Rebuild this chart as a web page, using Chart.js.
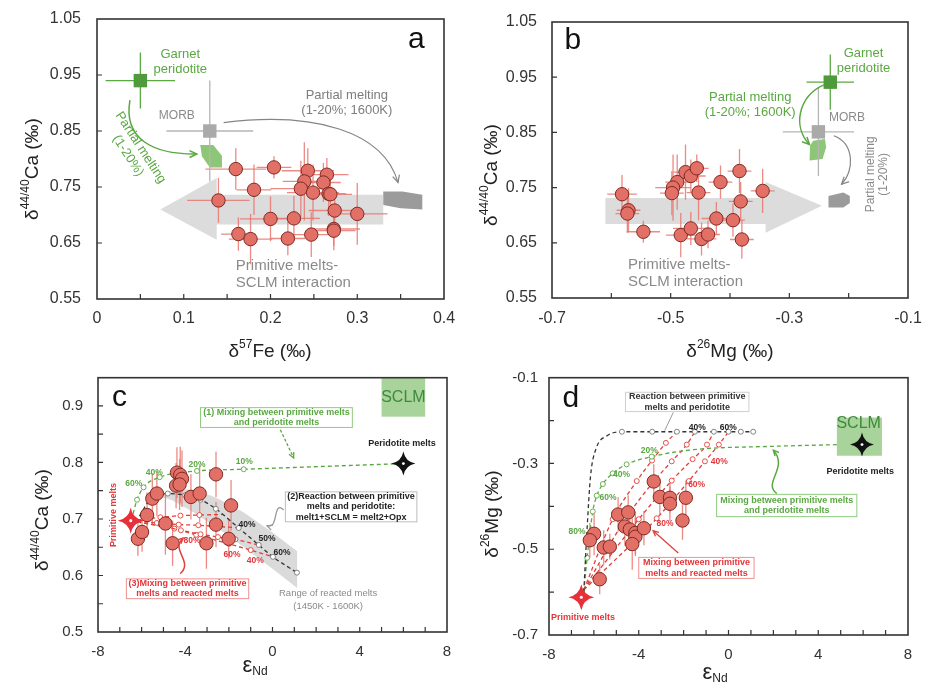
<!DOCTYPE html>
<html>
<head>
<meta charset="utf-8">
<title>Ca, Fe, Mg isotopes vs eNd</title>
<script src="https://cdn.jsdelivr.net/npm/chart.js@4.4.1/dist/chart.umd.min.js"></script>
<style>
  body { margin: 0; background: #fff; }
  canvas { position: absolute; }
</style>
</head>
<body>
<canvas id="pa" width="463" height="370" style="left:0;top:0"></canvas>
<canvas id="pb" width="463" height="370" style="left:463px;top:0"></canvas>
<canvas id="pc" width="463" height="321" style="left:0;top:370px"></canvas>
<canvas id="pd" width="463" height="321" style="left:463px;top:370px"></canvas>
<script>
// ---------- data: panel a (d57Fe vs d44/40Ca) ----------
const aFe    = [0.160, 0.204, 0.181, 0.140, 0.243, 0.239, 0.235, 0.249, 0.265, 0.261, 0.267, 0.269, 0.274, 0.300, 0.200, 0.227, 0.163, 0.177, 0.220, 0.247, 0.273, 0.273];
const aCa    = [0.782, 0.785, 0.745, 0.726, 0.779, 0.760, 0.747, 0.740, 0.772, 0.758, 0.738, 0.737, 0.708, 0.702, 0.693, 0.694, 0.666, 0.657, 0.658, 0.665, 0.675, 0.672];
const aFeErr = [0.035, 0.020, 0.020, 0.036, 0.030, 0.025, 0.035, 0.030, 0.025, 0.020, 0.020, 0.025, 0.030, 0.035, 0.035, 0.030, 0.020, 0.025, 0.020, 0.025, 0.030, 0.025];
const aCaErr = [0.037, 0.020, 0.045, 0.040, 0.040, 0.070, 0.050, 0.050, 0.030, 0.035, 0.040, 0.035, 0.035, 0.055, 0.040, 0.040, 0.030, 0.045, 0.030, 0.040, 0.030, 0.035];
const aGarnetX = [0.05],  aGarnetY = [0.94], aGarnetErrX = [0.04], aGarnetErrY = [0.05];
const aMorbX   = [0.13],  aMorbY   = [0.85], aMorbErrX   = [0.05], aMorbErrY   = [0.09];
const aXTicks = [0, 0.1, 0.2, 0.3, 0.4];
const aYTicks = [0.55, 0.65, 0.75, 0.85, 0.95, 1.05];

// ---------- data: panel b (d26Mg vs d44/40Ca) ----------
const bMg    = [-0.582, -0.571, -0.573, -0.546, -0.489, -0.496, -0.498, -0.475, -0.466, -0.456, -0.453, -0.483, -0.466, -0.448, -0.437, -0.416, -0.423, -0.395, -0.384, -0.382, -0.380, -0.345];
const bCa    = [0.738, 0.709, 0.703, 0.670, 0.760, 0.750, 0.740, 0.778, 0.771, 0.785, 0.741, 0.664, 0.676, 0.657, 0.665, 0.760, 0.694, 0.691, 0.780, 0.725, 0.656, 0.744];
const bMgErr = [0.025, 0.020, 0.020, 0.028, 0.020, 0.030, 0.020, 0.020, 0.025, 0.020, 0.020, 0.025, 0.030, 0.025, 0.020, 0.020, 0.025, 0.020, 0.020, 0.020, 0.020, 0.020];
const bCaErr = [0.035, 0.040, 0.035, 0.020, 0.050, 0.060, 0.040, 0.050, 0.030, 0.025, 0.050, 0.040, 0.030, 0.030, 0.025, 0.030, 0.030, 0.030, 0.040, 0.035, 0.035, 0.040];
const bGarnetX = [-0.231], bGarnetY = [0.941], bGarnetErrX = [0.04], bGarnetErrY = [0.05];
const bMorbX   = [-0.251], bMorbY   = [0.851], bMorbErrX   = [0.06], bMorbErrY   = [0.08];
const bXTicks = [-0.7, -0.5, -0.3, -0.1];
const bYTicks = [0.55, 0.65, 0.75, 0.85, 0.95, 1.05];

// ---------- data: panel c (eNd vs d44/40Ca) ----------
const cNd    = [-6.17, -5.98, -5.75, -5.51, -5.30, -4.91, -4.58, -4.38, -4.23, -4.15, -4.42, -4.26, -3.74, -3.34, -3.03, -2.59, -2.59, -1.90, -2.01];
const cCa    = [0.665, 0.677, 0.707, 0.736, 0.745, 0.692, 0.657, 0.782, 0.778, 0.771, 0.759, 0.761, 0.739, 0.745, 0.657, 0.779, 0.690, 0.724, 0.665];
const cCaErr = [0.030, 0.035, 0.040, 0.045, 0.040, 0.055, 0.040, 0.045, 0.050, 0.050, 0.040, 0.045, 0.040, 0.050, 0.045, 0.040, 0.040, 0.045, 0.035];
const cPeriMixX = [-6.47, -6.21, -5.91, -5.17, -3.46, -1.32, 5.94];
const cPeriMixY = [0.697, 0.734, 0.756, 0.774, 0.785, 0.788, 0.798];
const cReactX = [-6.10, -5.60, -4.80, -4.00, -3.30, -2.60, -1.55, -0.63, 0.02, 1.12];
const cReactY = [0.705, 0.735, 0.745, 0.742, 0.734, 0.718, 0.684, 0.654, 0.633, 0.605];
const cMix1X = [-6.52, -5.14, -4.22, -3.35, -2.30], cMix1Y = [0.697, 0.703, 0.706, 0.707, 0.708];
const cMix2X = [-6.52, -5.30, -4.30, -3.40, -2.60, -1.50], cMix2Y = [0.697, 0.693, 0.690, 0.689, 0.687, 0.684];
const cMix3X = [-6.52, -5.00, -4.20, -3.30, -2.50, -1.70, -0.63], cMix3Y = [0.697, 0.687, 0.680, 0.673, 0.668, 0.664, 0.654];
const cMix4X = [-6.52, -4.50, -3.50, -2.00, -1.00, 0.02], cMix4Y = [0.697, 0.683, 0.672, 0.656, 0.645, 0.633];
const cXTicks = [-8, -4, 0, 4, 8];
const cYTicks = [0.5, 0.6, 0.7, 0.8, 0.9];

// ---------- data: panel d (eNd vs d26Mg) ----------
const dNd    = [-3.33, -3.06, -2.61, -2.61, -1.90, -2.05, -4.92, -4.47, -4.62, -4.40, -4.15, -4.15, -3.77, -4.29, -5.99, -6.18, -5.56, -5.29, -5.74];
const dMg    = [-0.342, -0.378, -0.380, -0.394, -0.380, -0.433, -0.419, -0.414, -0.447, -0.454, -0.462, -0.471, -0.451, -0.488, -0.464, -0.479, -0.496, -0.494, -0.570];
const dMgErr = [0.040, 0.040, 0.035, 0.040, 0.040, 0.045, 0.040, 0.040, 0.045, 0.050, 0.050, 0.045, 0.040, 0.060, 0.050, 0.040, 0.040, 0.030, 0.035];
const dReactX = [-6.45, -6.30, -6.15, -5.90, -5.43, -4.75, -3.40, -2.30, -1.50, -0.65, 0.00, 0.55, 1.10];
const dReactY = [-0.600, -0.450, -0.330, -0.265, -0.236, -0.226, -0.226, -0.226, -0.226, -0.226, -0.226, -0.226, -0.226];
const dPeriMixX = [-6.45, -6.30, -6.05, -5.87, -5.60, -5.16, -4.54, -3.42, -1.60, 2.00, 5.90];
const dPeriMixY = [-0.600, -0.520, -0.412, -0.375, -0.348, -0.323, -0.302, -0.284, -0.268, -0.260, -0.255];
const dMix1X = [-6.45, -5.16, -4.09, -3.41, -2.79, -2.30], dMix1Y = [-0.595, -0.430, -0.341, -0.293, -0.252, -0.226];
const dMix2X = [-6.45, -4.60, -3.30, -2.53, -1.86, -1.50], dMix2Y = [-0.595, -0.430, -0.340, -0.295, -0.256, -0.226];
const dMix3X = [-6.45, -4.00, -2.53, -1.60, -0.96, -0.65], dMix3Y = [-0.595, -0.430, -0.340, -0.290, -0.256, -0.226];
const dMix4X = [-6.45, -3.20, -1.77, -1.05, -0.43, 0.00], dMix4Y = [-0.595, -0.428, -0.341, -0.295, -0.256, -0.226];
const dXTicks = [-8, -4, 0, 4, 8];
const dYTicks = [-0.7, -0.5, -0.3, -0.1];

// ---------- styling ----------
const FONT = '"Liberation Sans", Arial, Helvetica, sans-serif';
const RED_FILL = 'rgb(226,112,102)', RED_EDGE = '#7e2a22', RED_ERR = 'rgba(233,118,110,0.85)';
const RED_LINE = '#e2403a', RED_TXT = '#e3363a';
const GREEN = '#5aa842', GREEN_DARK = '#4f9a3a', GREEN_LIGHT = '#8cc676', GREEN_BOX = '#a8d49b';
const GREY_TXT = '#8a8a8a';

const pts = (xs, ys) => xs.map((x, i) => ({ x, y: ys[i] }));
const P = (c, x, y) => [c.scales.x.getPixelForValue(x), c.scales.y.getPixelForValue(y)];

function txt(c, s, x, y, o = {}) {
  const ctx = c.ctx, [X, Y] = P(c, x, y), size = o.size || 12;
  ctx.save();
  ctx.font = (o.bold ? 'bold ' : '') + size + 'px ' + FONT;
  ctx.fillStyle = o.color || '#333';
  ctx.textAlign = o.align || 'center';
  ctx.textBaseline = 'middle';
  ctx.translate(X, Y);
  if (o.rot) ctx.rotate(o.rot * Math.PI / 180);
  const lines = s.split('\n'), lh = size * (o.lh || 1.15);
  lines.forEach((l, i) => ctx.fillText(l, 0, (i - (lines.length - 1) / 2) * lh));
  ctx.restore();
}

function rect(c, x1, y1, x2, y2, stroke, fill) {
  const ctx = c.ctx, [X1, Y1] = P(c, x1, y1), [X2, Y2] = P(c, x2, y2);
  ctx.save();
  if (fill) { ctx.fillStyle = fill; ctx.fillRect(X1, Y1, X2 - X1, Y2 - Y1); }
  if (stroke) { ctx.strokeStyle = stroke; ctx.lineWidth = 1; ctx.strokeRect(X1, Y1, X2 - X1, Y2 - Y1); }
  ctx.restore();
}

function poly(c, list, fill) {
  const ctx = c.ctx;
  ctx.save();
  ctx.fillStyle = fill;
  ctx.beginPath();
  list.forEach((p, i) => { const [X, Y] = P(c, p[0], p[1]); i ? ctx.lineTo(X, Y) : ctx.moveTo(X, Y); });
  ctx.closePath();
  ctx.fill();
  ctx.restore();
}

function arrow(c, list, color, o = {}) {
  const ctx = c.ctx, q = list.map(p => P(c, p[0], p[1]));
  ctx.save();
  ctx.strokeStyle = color; ctx.lineWidth = o.w || 1.3;
  if (o.dash) ctx.setLineDash(o.dash);
  ctx.beginPath();
  ctx.moveTo(q[0][0], q[0][1]);
  if (q.length === 2) ctx.lineTo(q[1][0], q[1][1]);
  else if (q.length === 3) ctx.quadraticCurveTo(q[1][0], q[1][1], q[2][0], q[2][1]);
  else ctx.bezierCurveTo(q[1][0], q[1][1], q[2][0], q[2][1], q[3][0], q[3][1]);
  ctx.stroke();
  ctx.setLineDash([]);
  const e = q[q.length - 1], b = q[q.length - 2];
  const a = Math.atan2(e[1] - b[1], e[0] - b[0]), h = o.head || 8;
  ctx.beginPath();
  ctx.moveTo(e[0] - h * Math.cos(a - 0.45), e[1] - h * Math.sin(a - 0.45));
  ctx.lineTo(e[0], e[1]);
  ctx.lineTo(e[0] - h * Math.cos(a + 0.45), e[1] - h * Math.sin(a + 0.45));
  ctx.stroke();
  ctx.restore();
}

function star(c, x, y, r, color) {
  const ctx = c.ctx, [X, Y] = P(c, x, y), k = r * 0.16;
  ctx.save();
  ctx.fillStyle = color;
  ctx.beginPath();
  ctx.moveTo(X, Y - r);
  ctx.quadraticCurveTo(X + k, Y - k, X + r, Y);
  ctx.quadraticCurveTo(X + k, Y + k, X, Y + r);
  ctx.quadraticCurveTo(X - k, Y + k, X - r, Y);
  ctx.quadraticCurveTo(X - k, Y - k, X, Y - r);
  ctx.fill();
  ctx.fillStyle = '#fff';
  ctx.beginPath(); ctx.arc(X, Y, r * 0.12, 0, Math.PI * 2); ctx.fill();
  ctx.restore();
}

// title drawn as segments: [text, 0 normal | 1 superscript | -1 subscript, optional size]
function rich(ctx, parts, X, Y, size, rot) {
  ctx.save();
  ctx.translate(X, Y);
  if (rot) ctx.rotate(rot);
  ctx.fillStyle = '#222';
  ctx.textBaseline = 'middle';
  ctx.textAlign = 'left';
  const fontOf = p => (p[1] ? Math.round(size * 0.62) : (p[2] || size)) + 'px ' + FONT;
  let w = 0;
  parts.forEach(p => { ctx.font = fontOf(p); w += ctx.measureText(p[0]).width; });
  let x = -w / 2;
  parts.forEach(p => {
    ctx.font = fontOf(p);
    ctx.fillText(p[0], x, p[1] === 1 ? -size * 0.36 : p[1] === -1 ? size * 0.3 : 0);
    x += ctx.measureText(p[0]).width;
  });
  ctx.restore();
}

function drawErrors(c) {
  const ctx = c.ctx;
  c.data.datasets.forEach(ds => {
    if (!ds.errX && !ds.errY) return;
    ctx.save();
    ctx.strokeStyle = ds.errColor;
    ctx.lineWidth = 1.3;
    ds.data.forEach((d, j) => {
      const [X, Y] = P(c, d.x, d.y);
      ctx.beginPath();
      if (ds.errX) {
        const x1 = c.scales.x.getPixelForValue(d.x - ds.errX[j]), x2 = c.scales.x.getPixelForValue(d.x + ds.errX[j]);
        ctx.moveTo(x1, Y); ctx.lineTo(x2, Y);
      }
      if (ds.errY) {
        const y1 = c.scales.y.getPixelForValue(d.y - ds.errY[j]), y2 = c.scales.y.getPixelForValue(d.y + ds.errY[j]);
        ctx.moveTo(X, y1); ctx.lineTo(X, y2);
      }
      ctx.stroke();
    });
    ctx.restore();
  });
}

function samples(xs, ys, err) {
  return { data: pts(xs, ys), errY: err.y, errX: err.x, errColor: RED_ERR,
    pointRadius: 6.7, pointBackgroundColor: RED_FILL, pointBorderColor: RED_EDGE, pointBorderWidth: 1 };
}
function square(xs, ys, ex, ey, fill, errColor) {
  return { data: pts(xs, ys), errX: ex, errY: ey, errColor, pointStyle: 'rect', pointRadius: 9.5,
    pointBackgroundColor: fill, pointBorderColor: fill, pointBorderWidth: 0 };
}
function dashed(xs, ys, color, marks, o = {}) {
  return { data: pts(xs, ys), showLine: true, borderColor: color, borderWidth: 1.3, borderDash: [4, 3],
    cubicInterpolationMode: o.smooth ? 'monotone' : 'default', tension: 0,
    pointRadius: marks, pointBackgroundColor: '#fff', pointBorderColor: o.mark || color, pointBorderWidth: 0.9 };
}

function makeChart(id, cfg) {
  const decor = {
    id: 'decor',
    beforeDatasetsDraw(c) { if (cfg.back) cfg.back(c); drawErrors(c); },
    afterDatasetsDraw(c) {
      if (cfg.front) cfg.front(c);
      const ctx = c.ctx, a = c.chartArea;
      ctx.save();
      ctx.strokeStyle = '#333'; ctx.lineWidth = 1.6;
      ctx.strokeRect(a.left, a.top, a.right - a.left, a.bottom - a.top);
      ctx.lineWidth = 1.2;
      ctx.beginPath();
      cfg.xMarks.forEach(v => { const X = c.scales.x.getPixelForValue(v); ctx.moveTo(X, a.bottom); ctx.lineTo(X, a.bottom - 5); });
      cfg.yMarks.forEach(v => { const Y = c.scales.y.getPixelForValue(v); ctx.moveTo(a.left, Y); ctx.lineTo(a.left + 5, Y); });
      ctx.stroke();
      ctx.restore();
      rich(ctx, cfg.xTitle, cfg.xTitlePos[0], cfg.xTitlePos[1], 19, 0);
      rich(ctx, cfg.yTitle, cfg.yTitlePos[0], cfg.yTitlePos[1], 19, -Math.PI / 2);
    }
  };
  const tickFont = { family: FONT, size: cfg.tickSize };
  const noPad = s => { s.paddingTop = 0; s.paddingBottom = 0; s.paddingLeft = 0; s.paddingRight = 0; };
  return new Chart(document.getElementById(id), {
    type: 'scatter',
    data: { datasets: cfg.datasets },
    options: {
      responsive: false, animation: false, events: [],
      layout: { padding: { top: cfg.pad[0], right: cfg.pad[1], left: 0, bottom: 0 } },
      plugins: { legend: { display: false }, tooltip: { enabled: false } },
      scales: {
        x: {
          type: 'linear', min: cfg.xRange[0], max: cfg.xRange[1],
          grid: { display: false, drawTicks: false }, border: { display: false },
          afterBuildTicks: s => { s.ticks = cfg.xTicks.map(v => ({ value: v })); },
          afterFit: s => { s.height = cfg.xH; noPad(s); },
          ticks: { font: tickFont, color: '#333', padding: cfg.xPad, maxRotation: 0, autoSkip: false,
            callback: v => cfg.xFmt(v) }
        },
        y: {
          type: 'linear', min: cfg.yRange[0], max: cfg.yRange[1],
          grid: { display: false, drawTicks: false }, border: { display: false },
          afterBuildTicks: s => { s.ticks = cfg.yTicks.map(v => ({ value: v })); },
          afterFit: s => { s.width = cfg.yW; noPad(s); },
          ticks: { font: tickFont, color: '#333', padding: cfg.yPad, autoSkip: false,
            callback: v => cfg.yFmt(v) }
        }
      }
    },
    plugins: [decor]
  });
}

const caTitle = [['δ', 0], ['44/40', 1], ['Ca (‰)', 0]];
const ndTitle = [['ε', 0, 22], ['Nd', -1]];

// ---------- panel a ----------
makeChart('pa', {
  xRange: [0, 0.4], yRange: [0.55, 1.05], xTicks: aXTicks, yTicks: aYTicks,
  xFmt: v => (v === 0 ? '0' : v.toFixed(1)), yFmt: v => v.toFixed(2),
  xMarks: [0.05, 0.1, 0.15, 0.2, 0.25, 0.3, 0.35], yMarks: [0.65, 0.75, 0.85, 0.95],
  pad: [19, 19], yW: 97, xH: 71, xPad: 10, yPad: 16, tickSize: 16,
  xTitle: [['δ', 0], ['57', 1], ['Fe (‰)', 0]], xTitlePos: [270, 352],
  yTitle: caTitle, yTitlePos: [33, 169],
  datasets: [
    samples(aFe, aCa, { x: aFeErr, y: aCaErr }),
    square(aGarnetX, aGarnetY, aGarnetErrX, aGarnetErrY, GREEN_DARK, GREEN),
    square(aMorbX, aMorbY, aMorbErrX, aMorbErrY, '#aaaaaa', '#b5b5b5')
  ],
  back: c => {
    poly(c, [[0.073, 0.710], [0.138, 0.766], [0.138, 0.736], [0.330, 0.736], [0.330, 0.683], [0.138, 0.683], [0.138, 0.656]], '#dcdcdc');
    poly(c, [[0.330, 0.742], [0.352, 0.742], [0.375, 0.736], [0.375, 0.710], [0.350, 0.712], [0.330, 0.718]], '#9b9b9b');
    poly(c, [[0.119, 0.825], [0.134, 0.825], [0.144, 0.806], [0.144, 0.785], [0.130, 0.785], [0.121, 0.805]], GREEN_LIGHT);
  },
  front: c => {
    txt(c, 'Garnet\nperidotite', 0.096, 0.974, { size: 13, color: GREEN });
    txt(c, 'MORB', 0.092, 0.878, { size: 12, color: GREY_TXT });
    txt(c, 'Partial melting\n(1-20%; 1600K)', 0.288, 0.900, { size: 13, color: '#7d7d7d' });
    txt(c, 'Partial melting\n(1-20%)', 0.043, 0.813, { size: 13, color: GREEN, rot: 57 });
    txt(c, 'Primitive melts-\nSCLM interaction', 0.160, 0.594, { size: 15, color: GREY_TXT, align: 'left', lh: 1.1 });
    txt(c, 'a', 0.368, 1.013, { size: 30, color: '#111' });
    arrow(c, [[0.038, 0.905], [0.030, 0.835], [0.065, 0.808], [0.115, 0.809]], GREEN, { w: 1.5 });
    arrow(c, [[0.146, 0.865], [0.250, 0.885], [0.330, 0.850], [0.347, 0.758]], '#858585', { w: 1.2 });
  }
});

// ---------- panel b ----------
makeChart('pb', {
  xRange: [-0.7, -0.1], yRange: [0.55, 1.05], xTicks: bXTicks, yTicks: bYTicks,
  xFmt: v => v.toFixed(1), yFmt: v => v.toFixed(2),
  xMarks: [-0.6, -0.5, -0.4, -0.3, -0.2], yMarks: [0.65, 0.75, 0.85, 0.95],
  pad: [22, 18], yW: 89, xH: 72, xPad: 11, yPad: 15, tickSize: 16,
  xTitle: [['δ', 0], ['26', 1], ['Mg (‰)', 0]], xTitlePos: [267, 352],
  yTitle: caTitle, yTitlePos: [29, 175],
  datasets: [
    samples(bMg, bCa, { x: bMgErr, y: bCaErr }),
    square(bGarnetX, bGarnetY, bGarnetErrX, bGarnetErrY, GREEN_DARK, GREEN),
    square(bMorbX, bMorbY, bMorbErrX, bMorbErrY, '#aaaaaa', '#b5b5b5')
  ],
  back: c => {
    poly(c, [[-0.610, 0.731], [-0.340, 0.731], [-0.340, 0.760], [-0.245, 0.717], [-0.340, 0.668], [-0.340, 0.684], [-0.610, 0.684]], '#dcdcdc');
    poly(c, [[-0.234, 0.735], [-0.209, 0.741], [-0.198, 0.735], [-0.198, 0.722], [-0.209, 0.714], [-0.234, 0.714]], '#9b9b9b');
    poly(c, [[-0.265, 0.826], [-0.260, 0.835], [-0.240, 0.838], [-0.238, 0.823], [-0.244, 0.802], [-0.266, 0.799]], GREEN_LIGHT);
  },
  front: c => {
    txt(c, 'Garnet\nperidotite', -0.175, 0.979, { size: 13, color: GREEN });
    txt(c, 'MORB', -0.203, 0.877, { size: 12, color: GREY_TXT });
    txt(c, 'Partial melting\n(1-20%; 1600K)', -0.366, 0.899, { size: 13, color: GREEN });
    txt(c, 'Partial melting\n(1-20%)', -0.152, 0.774, { size: 12, color: GREY_TXT, rot: -90 });
    txt(c, 'Primitive melts-\nSCLM interaction', -0.572, 0.595, { size: 15, color: GREY_TXT, align: 'left', lh: 1.1 });
    txt(c, 'b', -0.665, 1.016, { size: 30, color: '#111' });
    arrow(c, [[-0.242, 0.936], [-0.285, 0.915], [-0.295, 0.860], [-0.266, 0.828]], GREEN, { w: 1.5 });
    arrow(c, [[-0.225, 0.844], [-0.190, 0.830], [-0.190, 0.780], [-0.212, 0.756]], '#858585', { w: 1.2 });
  }
});

// ---------- panel c ----------
makeChart('pc', {
  xRange: [-8, 8], yRange: [0.5, 0.95], xTicks: cXTicks, yTicks: cYTicks,
  xFmt: v => String(v), yFmt: v => v.toFixed(1),
  xMarks: [-7, -6, -5, -4, -3, -2, -1, 0, 1, 2, 3, 4, 5, 6, 7], yMarks: [0.55, 0.6, 0.65, 0.7, 0.75, 0.8, 0.85, 0.9],
  pad: [5, 16], yW: 98, xH: 59, xPad: 11, yPad: 15, tickSize: 15,
  xTitle: ndTitle, xTitlePos: [255, 296],
  yTitle: caTitle, yTitlePos: [43, 150],
  datasets: [
    samples(cNd, cCa, { y: cCaErr }),
    dashed(cPeriMixX, cPeriMixY, GREEN, [0, 2.5, 2.5, 2.5, 2.5, 2.5, 0], { smooth: true }),
    dashed(cReactX, cReactY, '#333', [0, 0, 2.5, 2.5, 2.5, 2.5, 2.5, 2.5, 2.5, 2.5], { smooth: true, mark: '#777' }),
    dashed(cMix1X, cMix1Y, RED_LINE, [0, 2.5, 2.5, 2.5, 0]),
    dashed(cMix2X, cMix2Y, RED_LINE, [0, 2.5, 2.5, 2.5, 2.5, 0]),
    dashed(cMix3X, cMix3Y, RED_LINE, [0, 2.5, 2.5, 2.5, 2.5, 2.5, 0]),
    dashed(cMix4X, cMix4Y, RED_LINE, [0, 2.5, 2.5, 2.5, 2.5, 0])
  ],
  back: c => {
    poly(c, [[-5.3, 0.742], [-4.4, 0.752], [-3.6, 0.752], [-2.6, 0.738], [-1.33, 0.712], [0, 0.676], [1.13, 0.643],
             [1.13, 0.578], [0, 0.612], [-0.55, 0.628], [-2.07, 0.672], [-3.63, 0.712], [-4.6, 0.733]], '#dadada');
  },
  front: c => {
    rect(c, 5.0, 0.95, 7.0, 0.881, null, GREEN_BOX);
    txt(c, 'SCLM', 6.0, 0.915, { size: 16, color: '#3e8a3a' });
    txt(c, 'c', -7.02, 0.914, { size: 30, color: '#111' });
    rect(c, -3.3, 0.897, 3.66, 0.862, '#8fcc7e');
    txt(c, '(1) Mixing between primitive melts\nand peridotite melts', 0.18, 0.880, { size: 9, bold: true, color: GREEN });
    arrow(c, [[0.36, 0.858], [0.97, 0.808]], GREEN, { dash: [3, 2], head: 6 });
    txt(c, 'Peridotite melts', 5.94, 0.833, { size: 9, bold: true, color: '#222' });
    star(c, 6.0, 0.798, 12, '#111');
    [['60%', -6.36, 0.762], ['40%', -5.42, 0.782], ['20%', -3.46, 0.796], ['10%', -1.29, 0.801]]
      .forEach(l => txt(c, l[0], l[1], l[2], { size: 8.5, bold: true, color: GREEN }));
    rect(c, 0.59, 0.748, 6.62, 0.695, '#bdbdbd');
    txt(c, '(2)Reaction between primitive\nmelts and peridotite:\nmelt1+SCLM = melt2+Opx', 3.6, 0.7215, { size: 9, bold: true, color: '#222' });
    arrow(c, [[0.51, 0.716], [0.0, 0.735], [0.3, 0.68], [-0.25, 0.688]], '#999', { head: 6 });
    [['40%', -1.17, 0.690], ['50%', -0.25, 0.665], ['60%', 0.44, 0.641]]
      .forEach(l => txt(c, l[0], l[1], l[2], { size: 8.5, bold: true, color: '#222' }));
    [['80%', -3.69, 0.662], ['60%', -1.86, 0.637], ['40%', -0.79, 0.626]]
      .forEach(l => txt(c, l[0], l[1], l[2], { size: 8.5, bold: true, color: RED_TXT }));
    rect(c, -6.7, 0.594, -1.09, 0.559, '#f09090');
    txt(c, '(3)Mixing between primitive\nmelts and reacted melts', -3.9, 0.5765, { size: 9, bold: true, color: RED_TXT });
    arrow(c, [[-4.23, 0.603], [-3.6, 0.625], [-4.7, 0.645], [-4.10, 0.666]], RED_LINE, { head: 6, w: 1.5 });
    txt(c, 'Range of reacted melts\n(1450K - 1600K)', 2.55, 0.557, { size: 9.5, color: GREY_TXT, lh: 1.3 });
    star(c, -6.5, 0.697, 13, '#e8303a');
    txt(c, 'Primitive melts', -7.28, 0.707, { size: 9, bold: true, color: RED_TXT, rot: -90 });
  }
});

// ---------- panel d ----------
makeChart('pd', {
  xRange: [-8, 8], yRange: [-0.7, -0.1], xTicks: dXTicks, yTicks: dYTicks,
  xFmt: v => String(v), yFmt: v => v.toFixed(1),
  xMarks: [-7, -6, -5, -4, -3, -2, -1, 0, 1, 2, 3, 4, 5, 6, 7], yMarks: [-0.6, -0.5, -0.4, -0.3, -0.2],
  pad: [3, 18], yW: 86, xH: 56, xPad: 11, yPad: 11, tickSize: 15,
  xTitle: ndTitle, xTitlePos: [252, 303],
  yTitle: [['δ', 0], ['26', 1], ['Mg (‰)', 0]], yTitlePos: [30, 144],
  datasets: [
    samples(dNd, dMg, { y: dMgErr }),
    dashed(dReactX, dReactY, '#333', [0, 0, 0, 0, 0, 2.5, 2.5, 2.5, 2.5, 2.5, 2.5, 2.5, 2.5], { smooth: true, mark: '#777' }),
    dashed(dPeriMixX, dPeriMixY, GREEN, [0, 2.5, 2.5, 2.5, 2.5, 2.5, 2.5, 2.5, 0, 0, 0], { smooth: true }),
    dashed(dMix1X, dMix1Y, RED_LINE, [0, 2.5, 2.5, 2.5, 2.5, 0], { smooth: true }),
    dashed(dMix2X, dMix2Y, RED_LINE, [0, 2.5, 2.5, 2.5, 2.5, 0], { smooth: true }),
    dashed(dMix3X, dMix3Y, RED_LINE, [0, 2.5, 2.5, 2.5, 2.5, 0], { smooth: true }),
    dashed(dMix4X, dMix4Y, RED_LINE, [0, 2.5, 2.5, 2.5, 2.5, 0], { smooth: true })
  ],
  front: c => {
    txt(c, 'd', -7.03, -0.150, { size: 30, color: '#111' });
    rect(c, -4.59, -0.134, 0.91, -0.179, '#cfcfcf');
    txt(c, 'Reaction between primitive\nmelts and peridotite', -1.84, -0.1565, { size: 9, bold: true, color: '#333' });
    const ctx = c.ctx, [lx1, ly1] = P(c, -2.46, -0.181), [lx2, ly2] = P(c, -2.84, -0.223);
    ctx.save(); ctx.strokeStyle = '#999'; ctx.lineWidth = 1;
    ctx.beginPath(); ctx.moveTo(lx1, ly1); ctx.lineTo(lx2, ly2); ctx.stroke(); ctx.restore();
    [['40%', -1.39, -0.217], ['60%', -0.01, -0.217]]
      .forEach(l => txt(c, l[0], l[1], l[2], { size: 8.5, bold: true, color: '#222' }));
    [['40%', -0.41, -0.296], ['60%', -1.42, -0.349], ['80%', -2.83, -0.441]]
      .forEach(l => txt(c, l[0], l[1], l[2], { size: 8.5, bold: true, color: RED_TXT }));
    [['20%', -3.53, -0.271], ['40%', -4.77, -0.326], ['60%', -5.37, -0.380], ['80%', -6.75, -0.458]]
      .forEach(l => txt(c, l[0], l[1], l[2], { size: 8.5, bold: true, color: GREEN }));
    rect(c, 4.83, -0.193, 6.84, -0.282, null, GREEN_BOX);
    txt(c, 'SCLM', 5.8, -0.208, { size: 16, color: '#3e8a3a' });
    star(c, 5.95, -0.256, 12, '#111');
    txt(c, 'Peridotite melts', 5.87, -0.319, { size: 9, bold: true, color: '#222' });
    rect(c, -0.53, -0.372, 5.72, -0.424, '#8fcc7e');
    txt(c, 'Mixing between primitive melts\nand peridotite melts', 2.6, -0.398, { size: 9, bold: true, color: GREEN });
    arrow(c, [[2.15, -0.370], [1.5, -0.345], [2.7, -0.310], [2.0, -0.269]], GREEN, { head: 6, w: 1.5 });
    rect(c, -4.0, -0.519, 1.14, -0.568, '#f09090');
    txt(c, 'Mixing between primitive\nmelts and reacted melts', -1.43, -0.5435, { size: 9, bold: true, color: RED_TXT });
    arrow(c, [[-2.24, -0.509], [-3.36, -0.457]], RED_LINE, { head: 6, w: 1.3 });
    star(c, -6.56, -0.612, 13, '#e8303a');
    txt(c, 'Primitive melts', -6.48, -0.660, { size: 9, bold: true, color: RED_TXT });
  }
});
</script>
</body>
</html>
